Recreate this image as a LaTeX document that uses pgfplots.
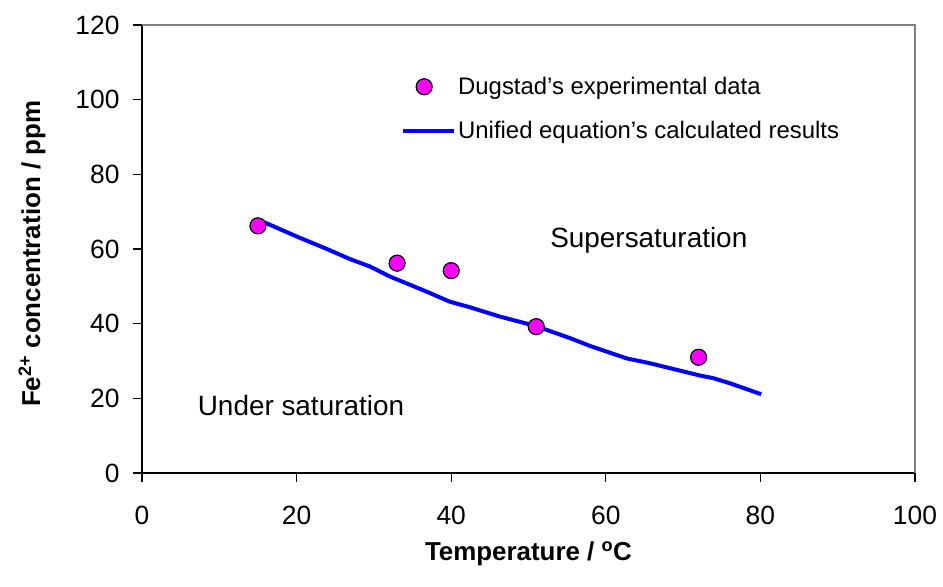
\documentclass[border=0pt]{standalone}
\usepackage{fontspec}
\setmainfont{Liberation Sans}
\usepackage{pgfplots}
\pgfplotsset{compat=1.18}

\definecolor{markfill}{RGB}{255,0,255}
\definecolor{curveblue}{RGB}{0,0,255}
\definecolor{framegray}{RGB}{128,128,128}

\pgfplotsset{
  shortline legend/.style={
    legend image code/.code={\draw[##1] (0bp,0bp) -- (51bp,0bp);}},
  dot legend/.style={
    legend image code/.code={%
      \draw[mark repeat=2, mark phase=2, ##1]
        plot coordinates {(0bp,0bp) (21bp,0bp) (51bp,0bp)};}},
}

% Measured Fe2+ concentrations
\pgfplotstableread{
T    c
15   66.2
33   56.2
40   54.2
51   39.2
72   31.0
}\expdata

% Solubility predicted by the unified equation
\pgfplotstableread{
T     c
15.0  67.9
20.4  63.0
23.7  60.2
26.9  57.3
29.5  55.3
32.1  52.6
36.8  48.6
39.8  45.9
42.4  44.4
46.3  41.9
50.9  39.4
55.4  36.1
58.0  34.0
62.7  30.7
65.7  29.4
72.2  26.1
73.9  25.4
76.1  24.0
80.1  21.1
}\calcdata

\begin{document}
\begin{tikzpicture}
\begin{axis}[
  name=ax,
  scale only axis,
  width=773bp, height=448bp,
  xmin=0, xmax=100, ymin=0, ymax=120,
  xtick={0,20,...,100}, ytick={0,20,...,120},
  axis x line*=bottom, axis y line*=left,
  axis line style={black, line width=1.1bp},
  tick style={black, line width=1.1bp},
  tick align=outside,
  major tick length=9bp,
  /pgf/number format/assume math mode=true,
  ticklabel style={font=\fontsize{26.5}{31}\selectfont},
  xticklabel shift=21bp,
  yticklabel shift=10bp,
  xlabel={Temperature / \textsuperscript{o}C},
  ylabel={Fe\textsuperscript{2+} concentration / ppm},
  label style={font=\bfseries\fontsize{26}{31}\selectfont},
  xlabel style={at={(axis description cs:0.5,-0.181)}, anchor=center},
  ylabel style={at={(axis description cs:-0.1423,0.489)}, anchor=center},
  clip=false,
  legend style={
    at={(rel axis cs:0.335,0.888)}, anchor=north west,
    draw=none, fill=none, inner sep=0pt,
    font=\fontsize{24}{29}\selectfont,
    row sep=21bp, cells={anchor=west},
  },
  legend cell align=left,
]
% open frame on top and right
\draw[framegray, line width=1.1bp] (rel axis cs:0,1) -- (rel axis cs:1,1) -- (rel axis cs:1,0);

\addplot[curveblue, line width=4bp, forget plot] table[x=T, y=c] {\calcdata};
\addplot[only marks, mark=*, mark size=8bp,
  mark options={fill=markfill, draw=black, line width=1.2bp}, dot legend]
  table[x=T, y=c] {\expdata};
\addlegendentry{Dugstad's experimental data}
\addlegendimage{curveblue, line width=4bp, shortline legend}
\addlegendentry{Unified equation's calculated results}

\node[anchor=base west, inner sep=0pt, font=\fontsize{28}{33}\selectfont]
  at (axis cs:52.8,60.3) {Supersaturation};
\node[anchor=base west, inner sep=0pt, font=\fontsize{28}{33}\selectfont]
  at (axis cs:7.2,15.3) {Under saturation};
\end{axis}
% page extent
\path ([shift={(-142bp,-114bp)}]ax.south west) rectangle ([shift={(28bp,25bp)}]ax.north east);
\end{tikzpicture}
\end{document}
